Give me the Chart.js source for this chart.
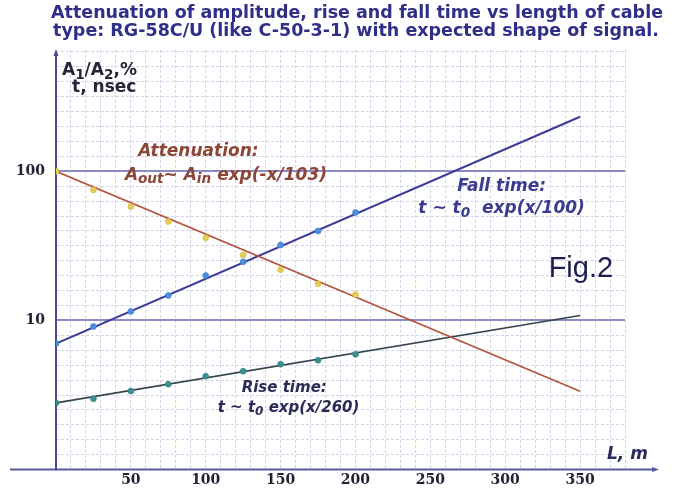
<!DOCTYPE html>
<html>
<head>
<meta charset="utf-8">
<script src="https://cdn.jsdelivr.net/npm/chart.js@4/dist/chart.umd.min.js"></script>
<style>
  html, body { margin: 0; padding: 0; background: #ffffff; }
  #wrap { width: 675px; height: 489px; position: relative; }
</style>
</head>
<body>
<div id="wrap"><canvas id="chart"></canvas></div>
<script>
// Cable length, m (measurement points)
const lengths = [0, 25, 50, 75, 100, 125, 150, 175, 200];
// Measured values
const attenuation = [100, 75, 58, 46, 35.8, 27.5, 21.9, 17.6, 14.9];   // A1/A2, %
const fallTime    = [7.0, 9.1, 11.5, 14.7, 20.0, 24.7, 32.0, 39.8, 53.0]; // nsec
const riseTime    = [2.8, 2.98, 3.36, 3.74, 4.23, 4.57, 5.09, 5.41, 5.93]; // nsec
// Fitted exponential trends, end points at 0 m and 350 m
const fitLengths     = [0, 350];
const attenuationFit = [100, 3.35];
const fallFit        = [7.0, 232];
const riseFit        = [2.8, 10.8];
// Tick labels
const xTickLabels = [50, 100, 150, 200, 250, 300, 350];
const yTickLabels = [10, 100];

const titleLines = [
  'Attenuation of amplitude, rise and fall time vs length of cable',
  'type: RG-58C/U (like C-50-3-1) with expected shape of signal.'
];

const X_MAX = 380;
const Y_MIN = 1, Y_MAX = 650;
const GRID = 'rgba(150,150,205,0.42)';

const pts = (xs, ys) => xs.map((x, i) => ({ x, y: ys[i] }));

// Text placed in data coordinates
const notes = [
  { x: 55, y: 136, size: 17, style: 'italic bold', color: '#8b4636', parts: [{ t: 'Attenuation:' }] },
  { x: 46, y: 94, size: 17, style: 'italic bold', color: '#8b4636',
    parts: [{ t: 'A' }, { t: 'out', sub: true }, { t: '~ A' }, { t: 'in', sub: true }, { t: ' exp(-x/103)' }] },
  { x: 268, y: 79.4, size: 17, style: 'italic bold', color: '#3b3b8f', parts: [{ t: 'Fall time:' }] },
  { x: 242, y: 55.8, size: 17, style: 'italic bold', color: '#3b3b8f',
    parts: [{ t: 't ~ t' }, { t: '0', sub: true }, { t: '  exp(x/100)' }] },
  { x: 124, y: 3.52, size: 15, style: 'italic bold', color: '#2b2b55', parts: [{ t: 'Rise time:' }] },
  { x: 108, y: 2.59, size: 15, style: 'italic bold', color: '#2b2b55',
    parts: [{ t: 't ~ t' }, { t: '0', sub: true }, { t: ' exp(x/260)' }] },
  { x: 368, y: 1.26, size: 17, style: 'italic bold', color: '#2b2b60', parts: [{ t: 'L, m' }] },
  { x: 4, y: 471, size: 17, style: 'bold', color: '#262636',
    parts: [{ t: 'A' }, { t: '1', sub: true }, { t: '/A' }, { t: '2', sub: true }, { t: ',%' }] },
  { x: 10.7, y: 363, size: 17, style: 'bold', color: '#262636', parts: [{ t: 't, nsec' }] }
];

function drawRich(ctx, parts, x, y, size, style, color) {
  let cx = x;
  ctx.fillStyle = color;
  ctx.textAlign = 'left';
  ctx.textBaseline = 'middle';
  for (const p of parts) {
    const s = p.sub ? size * 0.8 : size;
    ctx.font = `${style} ${s}px "DejaVu Sans"`;
    ctx.fillText(p.t, cx, y + (p.sub ? size * 0.25 : 0));
    cx += ctx.measureText(p.t).width;
  }
}

const decor = {
  id: 'decor',
  beforeDatasetsDraw(chart) {
    const { ctx } = chart;
    const xs = chart.scales.x, ys = chart.scales.y;
    const x0 = xs.getPixelForValue(0);
    const y0 = ys.getPixelForValue(Y_MIN);
    ctx.save();
    // horizontal axis with arrow
    ctx.strokeStyle = '#5858a2';
    ctx.fillStyle = '#5858a2';
    ctx.lineWidth = 2;
    const xEnd = chart.chartArea.right + 30;
    ctx.beginPath();
    ctx.moveTo(10, y0);
    ctx.lineTo(xEnd, y0);
    ctx.stroke();
    ctx.beginPath();
    ctx.moveTo(xEnd + 4, y0);
    ctx.lineTo(xEnd - 3, y0 - 2.5);
    ctx.lineTo(xEnd - 3, y0 + 2.5);
    ctx.closePath();
    ctx.fill();
    // vertical axis with arrow
    ctx.strokeStyle = '#4a4a98';
    ctx.fillStyle = '#4a4a98';
    const yTop = chart.chartArea.top + 4;
    ctx.beginPath();
    ctx.moveTo(x0, y0 + 1);
    ctx.lineTo(x0, yTop);
    ctx.stroke();
    ctx.beginPath();
    ctx.moveTo(x0, yTop - 5);
    ctx.lineTo(x0 - 2.5, yTop + 2);
    ctx.lineTo(x0 + 2.5, yTop + 2);
    ctx.closePath();
    ctx.fill();
    ctx.restore();
  },
  afterDatasetsDraw(chart) {
    const { ctx } = chart;
    const xs = chart.scales.x, ys = chart.scales.y;
    ctx.save();
    // heading
    ctx.fillStyle = '#2f2f88';
    ctx.font = 'bold 17.5px "DejaVu Sans"';
    ctx.textAlign = 'center';
    ctx.textBaseline = 'middle';
    ctx.fillText(titleLines[0], 357, 13);
    ctx.fillText(titleLines[1], 356, 31);
    // annotations
    for (const n of notes) {
      drawRich(ctx, n.parts, xs.getPixelForValue(n.x), ys.getPixelForValue(n.y), n.size, n.style, n.color);
    }
    ctx.fillStyle = '#1d1d4f';
    ctx.font = '29px "Liberation Sans"';
    ctx.textAlign = 'left';
    ctx.textBaseline = 'alphabetic';
    ctx.fillText('Fig.2', xs.getPixelForValue(329), ys.getPixelForValue(19.5));
    ctx.restore();
  }
};

new Chart(document.getElementById('chart'), {
  type: 'scatter',
  data: {
    datasets: [
      { label: 'Attenuation', data: pts(lengths, attenuation), backgroundColor: '#e3cd55', borderColor: '#c9b040',
        borderWidth: 0.5, pointRadius: 3, showLine: false },
      { label: 'Fall time', data: pts(lengths, fallTime), backgroundColor: '#4a8ee0', borderColor: '#3a74c0',
        borderWidth: 0.5, pointRadius: 3, showLine: false },
      { label: 'Rise time', data: pts(lengths, riseTime), backgroundColor: '#3d9090', borderColor: '#2e7474',
        borderWidth: 0.5, pointRadius: 3, showLine: false },
      { label: 'Attenuation fit', data: pts(fitLengths, attenuationFit), showLine: true, pointRadius: 0,
        borderColor: '#b3543e', borderWidth: 1.6 },
      { label: 'Fall time fit', data: pts(fitLengths, fallFit), showLine: true, pointRadius: 0,
        borderColor: '#3d3d99', borderWidth: 2 },
      { label: 'Rise time fit', data: pts(fitLengths, riseFit), showLine: true, pointRadius: 0,
        borderColor: '#34434a', borderWidth: 1.6 }
    ]
  },
  options: {
    responsive: true,
    maintainAspectRatio: false,
    animation: false,
    layout: { padding: { top: 50, right: 50, left: 0, bottom: 0 } },
    plugins: { legend: { display: false }, title: { display: false }, tooltip: { enabled: false } },
    scales: {
      x: {
        type: 'linear', min: 0, max: X_MAX,
        ticks: {
          stepSize: 10, autoSkip: false, maxRotation: 0, padding: 2,
          color: '#222233', font: { family: '"DejaVu Serif"', weight: 'bold', size: 14 },
          callback: v => xTickLabels.includes(v) ? String(v) : ''
        },
        grid: { drawTicks: false, lineWidth: 1, color: c => (c.tick && c.tick.value === 0) ? 'rgba(0,0,0,0)' : GRID },
        border: { display: false, dash: [3, 2] },
        afterFit: s => { s.height = 17; }
      },
      y: {
        type: 'logarithmic', min: Y_MIN, max: Y_MAX, position: 'left',
        afterBuildTicks: s => { s.ticks = yTickLabels.map(v => ({ value: v })); },
        ticks: { padding: 11, color: '#222233', font: { family: '"DejaVu Serif"', weight: 'bold', size: 14 },
          callback: v => String(v) },
        grid: { drawTicks: false, color: '#8a8ac2', lineWidth: 2 },
        border: { display: false },
        afterFit: s => { s.width = 56; }
      },
      yg: {
        type: 'linear', min: 0, max: Math.log10(Y_MAX), position: 'right',
        ticks: { display: false, stepSize: 0.1, includeBounds: false },
        grid: { drawTicks: false, lineWidth: 1, color: c => (c.tick && c.tick.value < 0.05) ? 'rgba(0,0,0,0)' : GRID },
        border: { display: false, dash: [3, 2] },
        afterFit: s => { s.width = 0; }
      }
    }
  },
  plugins: [decor]
});
</script>
</body>
</html>
